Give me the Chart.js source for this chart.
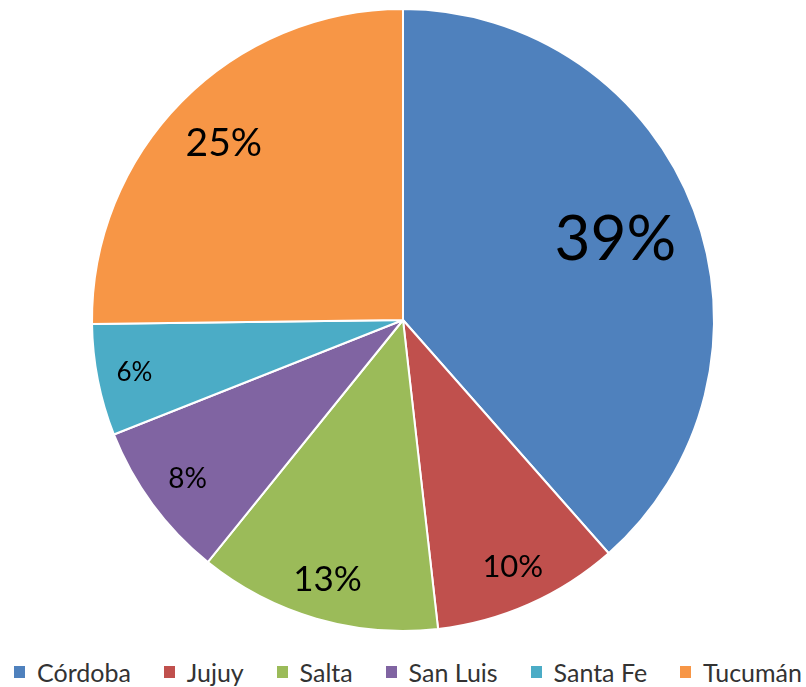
<!DOCTYPE html>
<html>
<head>
<meta charset="utf-8">
<script src="https://cdn.jsdelivr.net/npm/chart.js@4.4.0/dist/chart.umd.min.js"></script>
<style>
    html, body { margin: 0; padding: 0; background: #fff; }
    #wrap { width: 806px; height: 645px; }
    #legend {
        display: flex;
        justify-content: space-between;
        align-items: center;
        width: 806px;
        box-sizing: border-box;
        padding: 0 4px 0 14px;
        margin-top: 12px;
        font-family: Lato, sans-serif;
        font-size: 25px;
        color: #333;
    }
    .legend__item { display: flex; align-items: center; white-space: nowrap; }
    .legend__box { width: 11px; height: 12px; margin-right: 12px; }
</style>
</head>
<body>
<div id="wrap"><canvas id="chart-pie"></canvas></div>
<div id="legend"></div>
<script>
const provinces = ['Córdoba', 'Jujuy', 'Salta', 'San Luis', 'Santa Fe', 'Tucumán']
const shares = [38.5, 9.7, 12.6, 8.2, 5.8, 25.2]
const colors = ['#4F81BD', '#C0504D', '#9BBB59', '#8064A2', '#4BACC6', '#F79646']
// label look per slice, as in the original
const labelSizes = [62, 31, 35, 28, 26, 39]
const labelDist = [0.73, 0.87, 0.87, 0.86, 0.88, 0.81]

const pctLabels = {
    id: 'pctLabels',
    afterDatasetsDraw(chart) {
        const ctx = chart.ctx
        const meta = chart.getDatasetMeta(0)
        const total = shares.reduce((a, b) => a + b, 0)
        ctx.save()
        ctx.fillStyle = '#000'
        ctx.textAlign = 'center'
        ctx.textBaseline = 'middle'
        meta.data.forEach((arc, i) => {
            const p = arc.getProps(['x', 'y', 'startAngle', 'endAngle', 'outerRadius'], true)
            const mid = (p.startAngle + p.endAngle) / 2
            const r = p.outerRadius * labelDist[i]
            const txt = Math.round(shares[i] / total * 100) + '%'
            ctx.font = labelSizes[i] + 'px Lato'
            ctx.fillText(txt, p.x + Math.cos(mid) * r, p.y + Math.sin(mid) * r)
        })
        ctx.restore()
    }
}

const ctx = document.getElementById('chart-pie').getContext('2d')
const myChart = new Chart(ctx, {
    type: 'pie',
    data: {
        labels: provinces,
        datasets: [{
            data: shares,
            backgroundColor: colors,
            borderColor: '#fff',
            borderWidth: 2
        }]
    },
    options: {
        responsive: true,
        maintainAspectRatio: false,
        animation: false,
        layout: { padding: { top: 8, bottom: 13 } },
        plugins: {
            tooltip: { enabled: false },
            legend: { display: false }
        }
    },
    plugins: [pctLabels]
})

// legend below the canvas, same order and colours as the slices
let legend = document.getElementById('legend')
provinces.forEach((name, i) => {
    let item = document.createElement('div')
    item.className = 'legend__item'
    item.innerHTML = `<span class="legend__box" style="background:${colors[i]}"></span>${name}`
    legend.appendChild(item)
})
</script>
</body>
</html>
